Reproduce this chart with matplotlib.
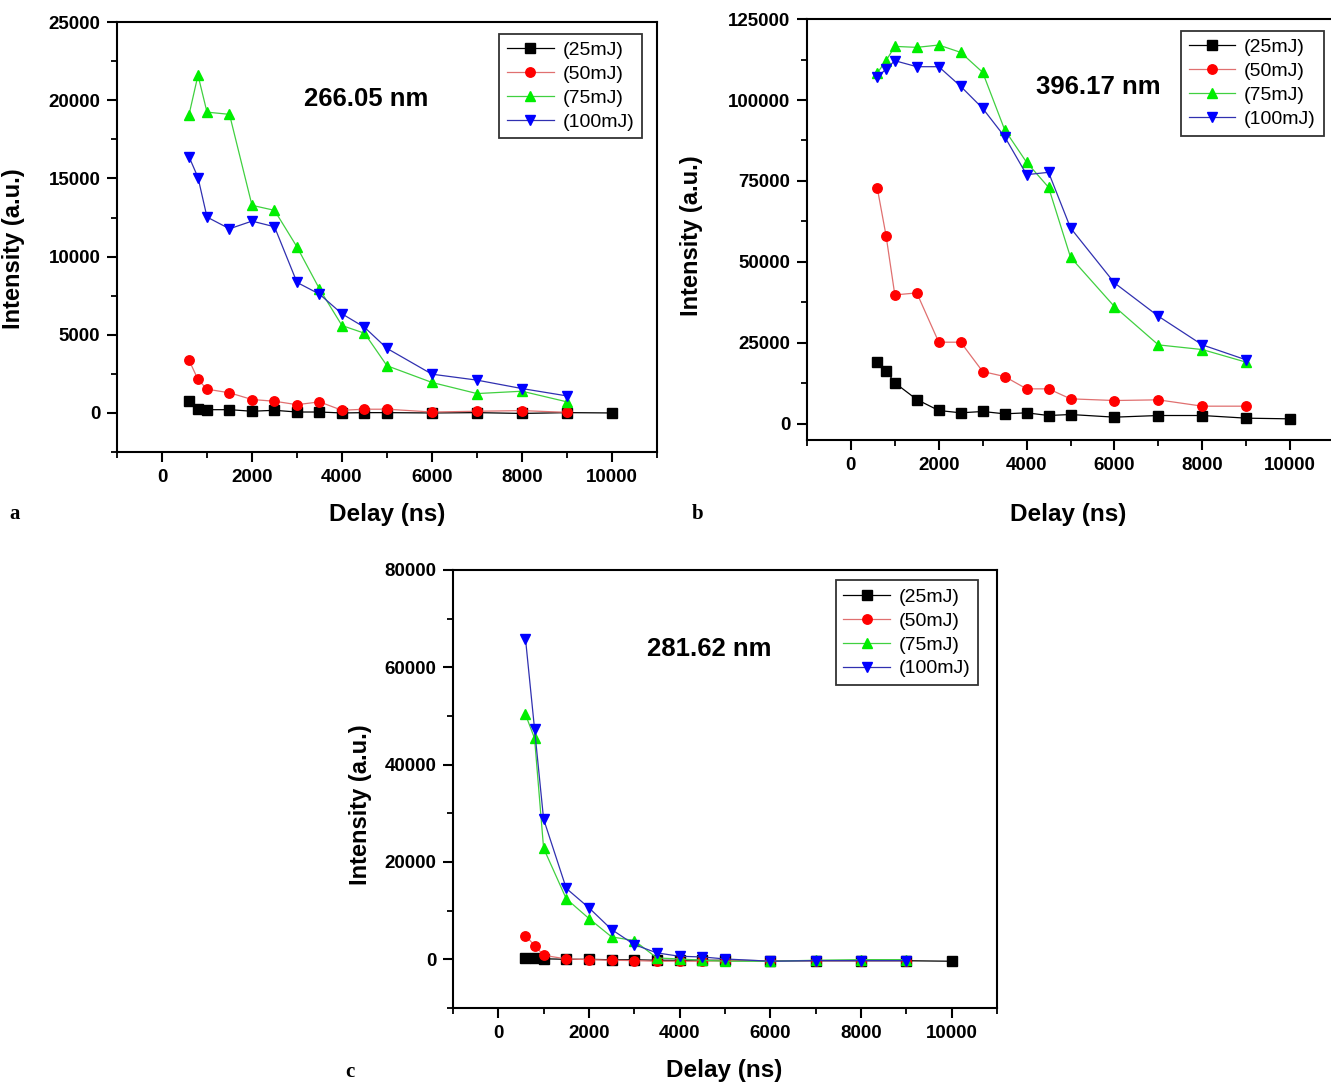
import matplotlib.pyplot as plt
from matplotlib.ticker import MultipleLocator

plt.rcParams['font.family'] = ['Liberation Sans', 'DejaVu Sans']

# delay times (ns)
delay = [600, 800, 1000, 1500, 2000, 2500, 3000, 3500, 4000, 4500, 5000, 6000, 7000, 8000, 9000]
delay_25 = delay + [10000]
labels = ["(25mJ)", "(50mJ)", "(75mJ)", "(100mJ)"]

# panel a: 266.05 nm
a_25 = [770, 280, 210, 210, 110, 170, 60, 60, 0, 20, 20, 0, 20, -30, 20, 0]
a_50 = [3380, 2140, 1520, 1290, 860, 750, 530, 710, 170, 240, 240, 60, 110, 150, 40]
a_75 = [19070, 21600, 19240, 19100, 13280, 12960, 10620, 7930, 5590, 5100, 3020, 1950, 1240, 1390, 710]
a_100 = [16390, 15060, 12530, 11780, 12270, 11910, 8350, 7600, 6340, 5480, 4130, 2480, 2100, 1560, 1090]

# panel b: 396.17 nm
b_25 = [19240, 16460, 12650, 7510, 4120, 3400, 3810, 3090, 3400, 2570, 2880, 2060, 2570, 2570, 1750, 1540]
b_50 = [72840, 58130, 39810, 40430, 25210, 25210, 16150, 14610, 10800, 10800, 7720, 7200, 7410, 5450, 5450]
b_75 = [108330, 112140, 116560, 116260, 116980, 114710, 108540, 90840, 80760, 73050, 51440, 36210, 24380, 22940, 19030]
b_100 = [107000, 109570, 112140, 110290, 110290, 104220, 97430, 88680, 76950, 77670, 60490, 43520, 33230, 24380, 19750]

# panel c: 281.62 nm
c_25 = [300, 200, 100, 0, 0, -100, -100, -200, -200, -200, -200, -300, -300, -300, -300, -400]
c_50 = [4880, 2820, 820, 70, -70, -200, -270, -400, -400, -400, -300, -300, -300, -300, -300]
c_75 = [50310, 45430, 22820, 12440, 8380, 4600, 3850, 270, 70, -200, -400, -400, -200, -70, -70]
c_100 = [65910, 47350, 28800, 14570, 10580, 6120, 3020, 1310, 620, 480, 70, -400, -270, -270, -270]


def panel(ax, series, ylim, ymajor, wavelength, text_pos, leg_pos, xlab_pos, ylab_pos,
          letter, letter_pos):
    styles = [("s", "black", "black"), ("o", "#ff0000", "#e07070"),
              ("^", "#00ee00", "#40d040"), ("v", "#0000ff", "#3030b0")]
    xs = [delay_25, delay, delay, delay]
    for x, y, lab, (m, c, lc) in zip(xs, series, labels, styles):
        ax.plot(x, y, color=lc, lw=0.9, marker=m, ms=6.8, mfc=c, mec=c, label=lab)
    ax.set_xlim(-1000, 11000)
    ax.set_ylim(*ylim)
    ax.xaxis.set_major_locator(MultipleLocator(2000))
    ax.xaxis.set_minor_locator(MultipleLocator(1000))
    ax.yaxis.set_major_locator(MultipleLocator(ymajor))
    ax.yaxis.set_minor_locator(MultipleLocator(ymajor / 2))
    ax.set_xticks([0, 2000, 4000, 6000, 8000, 10000])
    ax.tick_params(which="major", direction="out", length=7, width=1.5, labelsize=13.5, pad=5)
    ax.tick_params(which="minor", direction="out", length=4, width=1.3)
    for lbl in ax.get_xticklabels() + ax.get_yticklabels():
        lbl.set_fontweight("bold")
    for s in ax.spines.values():
        s.set_linewidth(1.5)
    ax.set_xlabel("Delay (ns)", fontsize=17.5, fontweight="bold")
    ax.set_ylabel("Intensity (a.u.)", fontsize=17, fontweight="bold")
    ax.xaxis.set_label_coords(*xlab_pos)
    ax.yaxis.set_label_coords(*ylab_pos)
    ax.text(text_pos[0], text_pos[1], wavelength, transform=ax.transAxes,
            fontsize=18.5, fontweight="bold", ha="center", va="center")
    leg = ax.legend(loc="upper right", bbox_to_anchor=leg_pos, fontsize=14,
                    frameon=True, fancybox=False, edgecolor="black",
                    handlelength=2.4, handletextpad=0.45, borderpad=0.4,
                    labelspacing=0.32, borderaxespad=0)
    leg.get_frame().set_linewidth(1.3)
    ax.figure.text(letter_pos[0], letter_pos[1], letter, family="Liberation Serif",
                   fontsize=15, fontweight="bold", ha="center", va="center")


fig = plt.figure(figsize=(13.31, 10.83), dpi=100)

ax_a = fig.add_axes([0.0879, 0.5826, 0.4057, 0.3970])
panel(ax_a, [a_25, a_50, a_75, a_100], (-2500, 25000), 5000, "266.05 nm",
      (0.461, 0.822), (0.972, 0.973), (0.5, -0.118), (-0.17, 0.472),
      "a", (0.0113, 0.525))

ax_b = fig.add_axes([0.6063, 0.5937, 0.3960, 0.3887])
panel(ax_b, [b_25, b_50, b_75, b_100], (-5000, 125000), 25000, "396.17 nm",
      (0.553, 0.838), (0.980, 0.972), (0.496, -0.150), (-0.197, 0.485),
      "b", (0.524, 0.525))

ax_c = fig.add_axes([0.3403, 0.0693, 0.4087, 0.4044])
panel(ax_c, [c_25, c_50, c_75, c_100], (-10000, 80000), 20000, "281.62 nm",
      (0.472, 0.820), (0.966, 0.976), (0.498, -0.116), (-0.149, 0.463),
      "c", (0.263, 0.010))

fig.savefig("out.png", dpi=100)
